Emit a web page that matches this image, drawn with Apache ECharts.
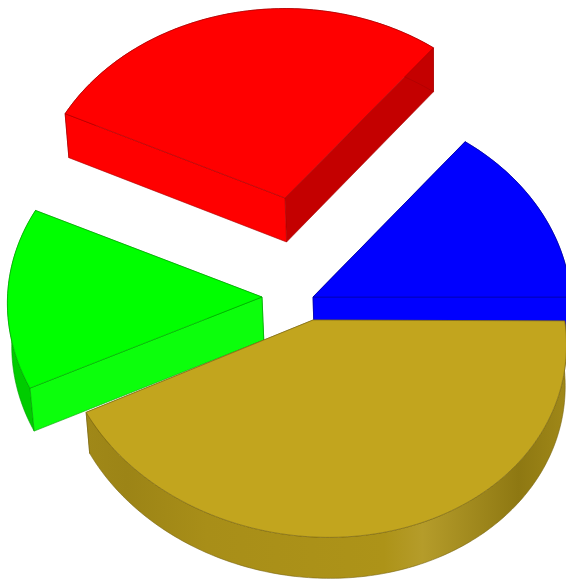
<!DOCTYPE html>
<html>
<head>
<meta charset="utf-8">
<style>html,body{margin:0;padding:0;background:#fff}#c{width:566px;height:579px;filter:blur(0.4px)}</style>
<script src="https://cdn.jsdelivr.net/npm/echarts@6/dist/echarts.min.js"></script>
</head>
<body>
<div id="c"></div>
<script>
// Slice data, counter-clockwise from the 3 o'clock position
const categories = ['Blue', 'Red', 'Green', 'Gold'];
const values = [14.4, 28.6, 14.3, 42.7];

// Drawing style
const topColors = ['#0000ff', '#ff0000', '#00ff00', '#c2a51e'];
const cutColors = ['#0000ff', '#ff0000', '#0cff0c', '#c2a51e'];
const sideCutColors = ['#0000c4', '#c40000', '#00c800', '#a08818'];
const rimColors = ['#0000c8', '#c40000', '#00cc00', null];
const edgeColors = ['#0000a0', '#a80000', '#00a000', '#7a6612'];
const apexX = [313, 285, 262, 313];
const apexY = [297, 198, 297, 320];
const radii = [258, 250, 253.5, 253];
const squash = [207, 201, 203.7, 203.7];
const tilt = [0, 0, 0.05, 0.05];
const skew = [0, 0, -8, 0];
const spinDeg = [0, -0.3, 3.0, 3.3];
const depths = [41, 44, 43, 41];

// Perspective disc
const PERSP = 0.0611;
const VANISH_X = 440;
const TAPER = 0.01;

const total = values.reduce((a, b) => a + b, 0);
const starts = [];
values.reduce((acc, v, i) => { starts[i] = acc; return acc + v; }, 0);

function lower(i, p) {
  return [p[0] + (VANISH_X - p[0]) * TAPER, p[1] + depths[i]];
}
function project(i, theta, bottom) {
  const t = theta + spinDeg[i] * Math.PI / 180;
  const u = Math.cos(t), v = -Math.sin(t);
  const w = 1 - PERSP * v;
  const X = radii[i] * u / w + skew[i] * v / w;
  const Y = squash[i] * v / w + tilt[i] * X;
  const p = [apexX[i] + X, apexY[i] + Y];
  return bottom ? lower(i, p) : p;
}

function renderSlice(params, api) {
  const i = api.value(0);
  const a0 = starts[i] / total * Math.PI * 2;
  const a1 = (starts[i] + api.value(1)) / total * Math.PI * 2;
  const steps = Math.max(8, Math.round((a1 - a0) * 60));
  const pt = p => api.coord(p);
  const arcTop = [], arcBottom = [];
  for (let k = 0; k <= steps; k++) {
    const t = a0 + (a1 - a0) * k / steps;
    arcTop.push(pt(project(i, t, false)));
    arcBottom.push(pt(project(i, t, true)));
  }
  const apexT = pt([apexX[i], apexY[i]]);
  const apexB = pt(lower(i, [apexX[i], apexY[i]]));
  const edge = { stroke: edgeColors[i], lineWidth: 0.6, lineJoin: 'round' };
  const poly = (points, fill) => ({
    type: 'polygon', shape: { points },
    style: Object.assign({ fill }, edge)
  });
  let rimFill = rimColors[i];
  if (!rimFill) {
    rimFill = {
      type: 'linear', x: 0, y: 0, x2: 1, y2: 0,
      colorStops: [
        { offset: 0, color: '#a08818' },
        { offset: 0.085, color: '#9c8416' },
        { offset: 0.25, color: '#a88e18' },
        { offset: 0.62, color: '#ad9318' },
        { offset: 0.7, color: '#b59c2a' },
        { offset: 0.9, color: '#8e7812' },
        { offset: 1, color: '#a08818' }
      ]
    };
  }
  const faceStart = poly([apexT, arcTop[0], arcBottom[0], apexB], i === 0 ? cutColors[i] : sideCutColors[i]);
  const faceEnd = poly([apexT, arcTop[steps], arcBottom[steps], apexB], i === 0 ? sideCutColors[i] : cutColors[i]);
  const rim = poly(arcTop.concat(arcBottom.slice().reverse()), rimFill);
  const top = poly([apexT].concat(arcTop), topColors[i]);
  const children = i === 0 ? [faceEnd, rim, faceStart, top] : [faceStart, rim, faceEnd, top];
  return { type: 'group', children };
}

const chart = echarts.init(document.getElementById('c'), null, { renderer: 'canvas' });
chart.setOption({
  animation: false,
  backgroundColor: '#ffffff',
  grid: { left: 0, right: 0, top: 0, bottom: 0 },
  xAxis: { type: 'value', min: 0, max: 566, show: false },
  yAxis: { type: 'value', min: 0, max: 579, inverse: true, show: false },
  series: [{
    type: 'custom',
    coordinateSystem: 'cartesian2d',
    clip: true,
    renderItem: renderSlice,
    encode: { x: 0, y: 1 },
    data: categories.map((name, i) => ({ name, value: [i, values[i]] }))
  }]
});
</script>
</body>
</html>
